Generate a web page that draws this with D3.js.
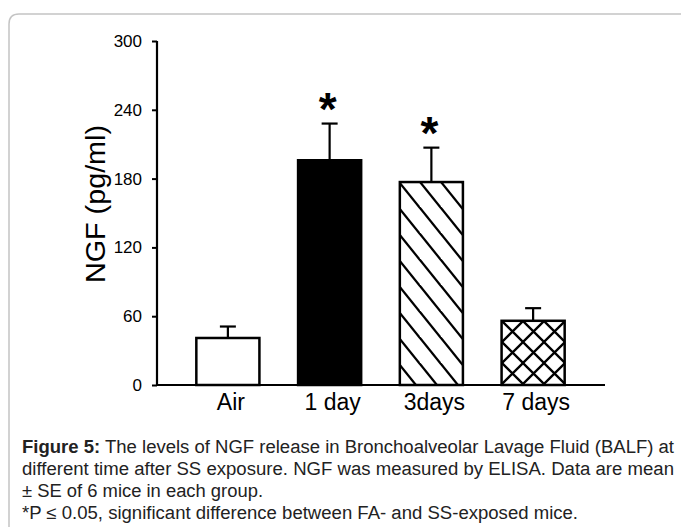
<!DOCTYPE html>
<html>
<head>
<meta charset="utf-8">
<script src="https://cdn.jsdelivr.net/npm/d3@7"></script>
<style>
  body { margin: 0; background: #fff; }
  svg { display: block; font-family: "Liberation Sans", Arial, sans-serif; }
</style>
</head>
<body>
<svg id="chart" width="681" height="527"></svg>
<script>
// NGF in BALF, mean + SE
var groups = ["Air", "1 day", "3days", "7 days"];
var means = [41, 196, 177, 56];
var errors = [10, 32, 30, 11];
var significant = [false, true, true, false];
var yTicks = [0, 60, 120, 180, 240, 300];
var captionLines = [
  ["Figure 5:", " The levels of NGF release in Bronchoalveolar Lavage Fluid (BALF) at"],
  ["", "different time after SS exposure. NGF was measured by ELISA. Data are mean"],
  ["", "\u00b1 SE of 6 mice in each group."],
  ["", "*P \u2264 0.05, significant difference between FA- and SS-exposed mice."]
];

var svg = d3.select("#chart");

// light frame round the figure
svg.append("path")
  .attr("d", "M9,527V24Q9,14 19,14H681")
  .attr("fill", "none")
  .attr("stroke", "#c4c4c4")
  .attr("stroke-width", 1.5);

var defs = svg.append("defs");

// diagonal hatch for 3 days
var hatch = defs.append("pattern")
  .attr("id", "hatch")
  .attr("patternUnits", "userSpaceOnUse")
  .attr("width", 21).attr("height", 26);
hatch.append("rect").attr("width", 21).attr("height", 26).attr("fill", "#fff");
[-1, 0, 1].forEach(function(k) {
  hatch.append("path")
    .attr("d", "M" + (k * 21 - 21) + ",-26L" + (k * 21 + 42) + ",52")
    .attr("stroke", "#000").attr("stroke-width", 2.3);
});

// cross hatch for 7 days
var cross = defs.append("pattern")
  .attr("id", "cross")
  .attr("patternUnits", "userSpaceOnUse")
  .attr("width", 21).attr("height", 21)
  .attr("x", 502).attr("y", 321);
cross.append("rect").attr("width", 21).attr("height", 21).attr("fill", "#fff");
cross.append("path")
  .attr("d", "M-5,-5L26,26M-5,26L26,-5M-5,16L5,26M16,-5L26,5M16,26L26,16M-5,5L5,-5")
  .attr("stroke", "#000").attr("stroke-width", 2.3);

var barFills = ["#fff", "#000", "url(#hatch)", "url(#cross)"];

var x = d3.scaleBand()
  .domain(groups)
  .range([177, 584])
  .paddingInner(0.38)
  .paddingOuter(0.19);

var y = d3.scaleLinear()
  .domain([0, 300])
  .range([385, 41]);

// error bars (upper only)
var err = svg.append("g").selectAll("g")
  .data(groups)
  .enter().append("g")
  .attr("stroke", "#000")
  .attr("stroke-width", 2.2);

err.append("line")
  .attr("x1", function(d) { return x(d) + x.bandwidth() / 2; })
  .attr("x2", function(d) { return x(d) + x.bandwidth() / 2; })
  .attr("y1", function(d, i) { return y(means[i]); })
  .attr("y2", function(d, i) { return y(means[i] + errors[i]); });

err.append("line")
  .attr("x1", function(d) { return x(d) + x.bandwidth() / 2 - 8; })
  .attr("x2", function(d) { return x(d) + x.bandwidth() / 2 + 8; })
  .attr("y1", function(d, i) { return y(means[i] + errors[i]); })
  .attr("y2", function(d, i) { return y(means[i] + errors[i]); });

// bars
svg.append("g").selectAll("rect")
  .data(groups)
  .enter().append("rect")
  .attr("x", function(d) { return x(d); })
  .attr("y", function(d, i) { return y(means[i]); })
  .attr("width", x.bandwidth())
  .attr("height", function(d, i) { return y(0) - y(means[i]); })
  .attr("fill", function(d, i) { return barFills[i]; })
  .attr("stroke", "#000")
  .attr("stroke-width", 2.5);

// significance stars
svg.append("g").selectAll("text")
  .data(groups.filter(function(d, i) { return significant[i]; }))
  .enter().append("text")
  .attr("x", function(d) { return x(d) + x.bandwidth() / 2 - 2; })
  .attr("y", function(d) {
    var i = groups.indexOf(d);
    return y(means[i] + errors[i]) + 1;
  })
  .attr("text-anchor", "middle")
  .attr("font-size", 46)
  .attr("font-weight", "bold")
  .text("*");

// y axis
var yAxis = svg.append("g")
  .attr("transform", "translate(157,0)")
  .call(d3.axisLeft(y).tickValues(yTicks).tickSize(5).tickPadding(10));
yAxis.select(".domain").attr("stroke-width", 2.2).attr("d", "M0,41V385");
yAxis.selectAll(".tick line").attr("stroke-width", 2);
yAxis.selectAll(".tick text")
  .attr("font-size", 17)
  .attr("font-family", "Liberation Sans, Arial, sans-serif")
  .attr("fill", "#000");

// x axis line
svg.append("line")
  .attr("x1", 156).attr("x2", 605)
  .attr("y1", y(0)).attr("y2", y(0))
  .attr("stroke", "#000").attr("stroke-width", 2.2);

// x labels
svg.append("g").selectAll("text")
  .data(groups)
  .enter().append("text")
  .attr("x", function(d) { return x(d) + x.bandwidth() / 2 + 3; })
  .attr("y", 410)
  .attr("text-anchor", "middle")
  .attr("font-size", 23)
  .text(function(d) { return d; });

// y title
svg.append("text")
  .attr("transform", "translate(105,204) rotate(-90)")
  .attr("text-anchor", "middle")
  .attr("font-size", 27)
  .attr("textLength", 158)
  .attr("lengthAdjust", "spacingAndGlyphs")
  .text("NGF (pg/ml)");

// caption
var capWidths = [652, 652, 241, 556];
var cap = svg.append("g").attr("fill", "#222");
captionLines.forEach(function(line, i) {
  var t = cap.append("text")
    .attr("x", 22)
    .attr("y", 453 + i * 22)
    .attr("font-size", 18)
    .attr("textLength", capWidths[i])
    .attr("lengthAdjust", "spacingAndGlyphs");
  if (line[0]) t.append("tspan").attr("font-weight", "bold").text(line[0]);
  t.append("tspan").text(line[1]);
});
</script>
</body>
</html>
